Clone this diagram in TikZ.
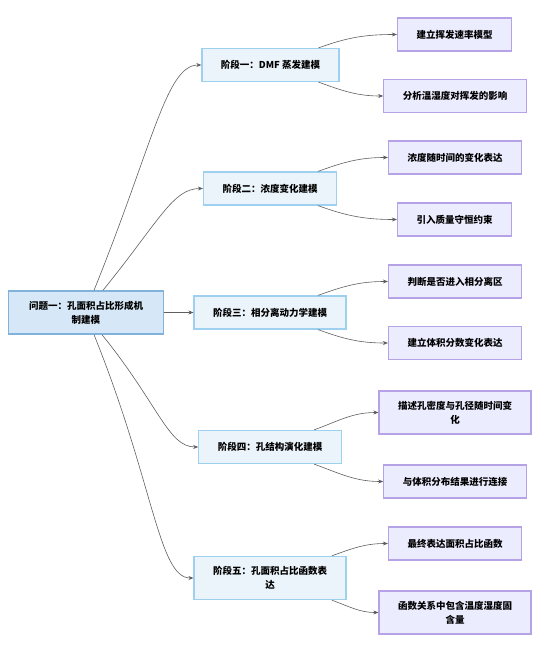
\documentclass[tikz,border=0pt]{standalone}
\usepackage{fontspec}
\setmainfont{Noto Sans CJK SC}
\usetikzlibrary{arrows.meta}
\definecolor{rootfill}{RGB}{214,232,247}
\definecolor{rootline}{RGB}{128,178,220}
\definecolor{stagefill}{RGB}{236,244,251}
\definecolor{stageline}{RGB}{158,208,240}
\definecolor{leaffill}{RGB}{236,236,255}
\definecolor{leafline}{RGB}{182,162,230}
\definecolor{edgegray}{RGB}{95,95,95}
\tikzset{
    box/.style={draw, line width=1.2pt, align=center, inner xsep=19pt, inner ysep=10pt,
        minimum height=33pt, font=\fontsize{9.5}{14}\selectfont\bfseries},
    rootbox/.style={box, fill=rootfill, draw=rootline},
    stagebox/.style={box, fill=stagefill, draw=stageline},
    leafbox/.style={box, fill=leaffill, draw=leafline},
    edge/.style={draw=edgegray, line width=0.6pt, -{Stealth[length=5pt,width=4pt]}}
}
\begin{document}
\begin{tikzpicture}[x=1pt, y=1pt]
    \useasboundingbox (0,0) rectangle (554,-648);

    % Problem
    \node[rootbox, minimum width=155pt] (root) at (86,-312.5) {问题一：孔面积占比形成机\\制建模};

    % Stages
    \node[stagebox] (s1) at (270.5,-65) {阶段一：DMF 蒸发建模};
    \node[stagebox] (s2) at (270,-188.5) {阶段二：浓度变化建模};
    \node[stagebox] (s3) at (270,-312.5) {阶段三：相分离动力学建模};
    \node[stagebox] (s4) at (270,-447) {阶段四：孔结构演化建模};
    \node[stagebox] (s5) at (270,-578) {阶段五：孔面积占比函数表\\达};

    % Steps of each stage
    \node[leafbox] (s1a) at (454.5,-34.5) {建立挥发速率模型};
    \node[leafbox] (s1b) at (455,-96) {分析温湿度对挥发的影响};
    \node[leafbox] (s2a) at (455,-157.5) {浓度随时间的变化表达};
    \node[leafbox] (s2b) at (454.5,-219.5) {引入质量守恒约束};
    \node[leafbox] (s3a) at (455,-281.5) {判断是否进入相分离区};
    \node[leafbox] (s3b) at (455,-343) {建立体积分数变化表达};
    \node[leafbox] (s4a) at (455,-412.5) {描述孔密度与孔径随时间变\\化};
    \node[leafbox] (s4b) at (455,-481.5) {与体积分布结果进行连接};
    \node[leafbox] (s5a) at (455,-543.5) {最终表达面积占比函数};
    \node[leafbox] (s5b) at (455,-612.5) {函数关系中包含温度湿度固\\含量};

    % Problem to stages
    \draw[edge] ([xshift=8pt]root.north) to[out=68, in=180, out distance=160pt, in distance=35pt] (s1.west);
    \draw[edge] ([xshift=17pt]root.north) to[out=51, in=180, out distance=90pt, in distance=30pt] (s2.west);
    \draw[edge] (root.east) -- (s3.west);
    \draw[edge] ([xshift=16pt]root.south) to[out=-51, in=180, out distance=90pt, in distance=30pt] (s4.west);
    \draw[edge] ([xshift=8pt]root.south) to[out=-68, in=180, out distance=160pt, in distance=35pt] (s5.west);

    % Stages to steps
    \foreach \s/\dx in {s1/48, s2/48, s3/48, s4/44, s5/62} {
        \draw[edge] ([xshift=\dx pt]\s.north) to[out=20, in=180] (\s a.west);
        \draw[edge] ([xshift=\dx pt]\s.south) to[out=-20, in=180] (\s b.west);
    }
\end{tikzpicture}
\end{document}
